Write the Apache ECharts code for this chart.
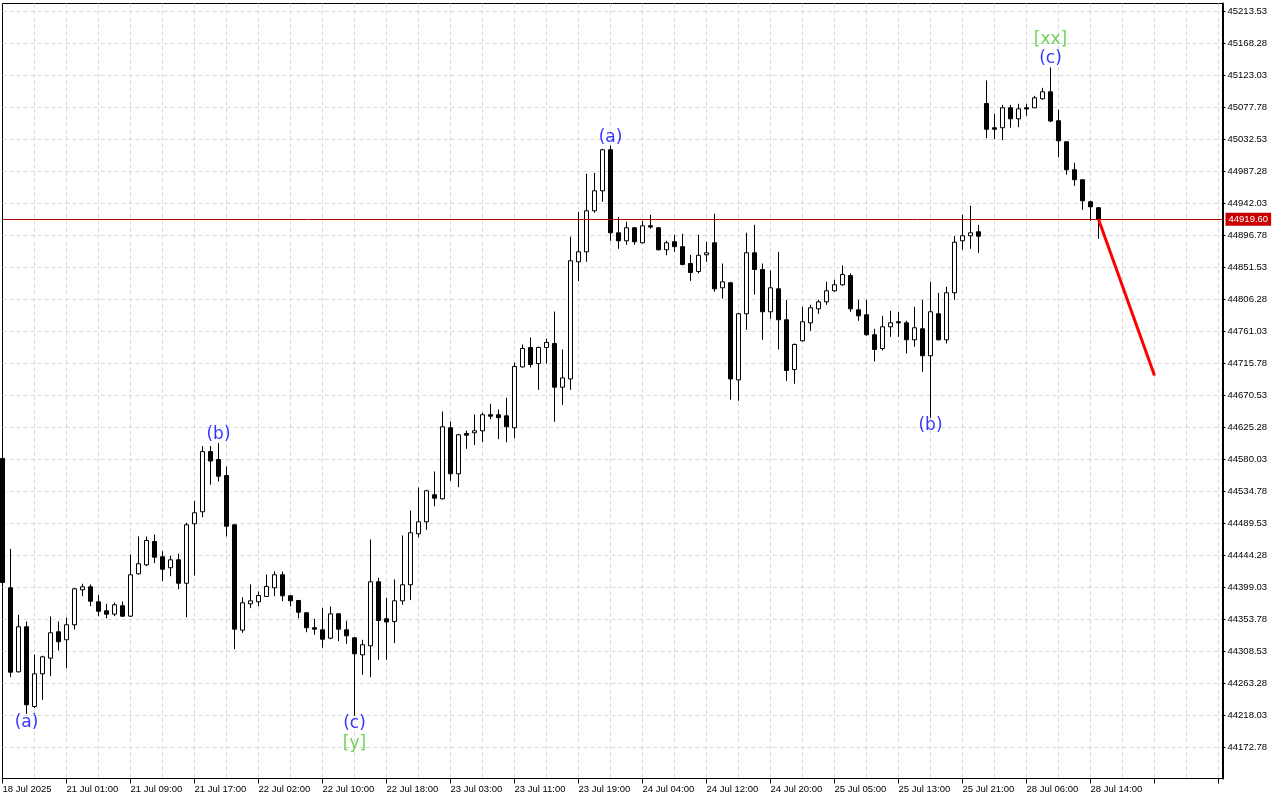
<!DOCTYPE html>
<html><head><meta charset="utf-8">
<script src="https://cdn.jsdelivr.net/npm/echarts@6/dist/echarts.min.js"></script>
<style>html,body{margin:0;padding:0;background:#fff}#chart{width:1280px;height:800px}</style>
</head><body><div id="chart"></div>
<script>
// Hourly candles, bar index 0..137
const open = [
44581.5,44398.6,44279.8,44343.5,44230.8,44277.0,44299.1,44336.4,44325.1,44346.3,
44395.8,44400.0,44378.8,44366.1,44361.3,44373.2,44358.5,44418.4,44431.1,44464.1,
44442.5,44426.9,44438.2,44405.1,44489.1,44506.1,44591.2,44580.0,44557.4,44487.7,
44338.7,44376.0,44378.8,44386.3,44398.6,44417.0,44387.3,44380.7,44363.3,44342.1,
44339.2,44327.4,44361.8,44339.2,44327.9,44303.9,44316.6,44407.1,44354.8,44351.0,
44380.2,44402.9,44475.0,44491.9,44530.2,44524.5,44624.9,44559.8,44616.8,44617.8,
44620.6,44643.3,44643.3,44641.8,44624.9,44711.0,44738.4,44715.8,44738.4,44744.1,
44682.3,44694.0,44859.6,44873.7,44931.7,44960.0,45018.0,44900.6,44889.3,44907.7,
44886.5,44910.5,44907.7,44876.6,44887.9,44881.0,44857.2,44845.9,44869.5,44886.5,
44822.8,44829.9,44692.6,44786.1,44872.3,44848.7,44788.9,44821.4,44777.6,44707.3,
44747.9,44773.3,44793.1,44803.0,44818.6,44827.1,44840.2,44791.7,44784.7,44756.4,
44737.0,44767.7,44774.8,44773.3,44749.3,44764.9,44726.7,44786.1,44749.3,44815.8,
44889.3,44896.4,44902.0,45083.4,45049.1,45049.1,45077.4,45061.8,45077.4,45077.4,
45090.1,45100.0,45059.0,45029.3,44989.7,44975.6,44944.4,44936.0];
const close = [
44406.1,44279.3,44343.5,44233.2,44277.0,44301.0,44335.0,44322.3,44346.3,44397.2,
44400.0,44379.7,44365.5,44361.3,44374.6,44358.5,44417.0,44432.6,44465.5,44441.9,
44424.9,44438.2,44405.1,44487.7,44504.7,44591.2,44577.9,44556.4,44485.7,44340.1,
44377.4,44380.2,44387.7,44400.5,44417.0,44387.3,44380.2,44364.1,44342.1,44340.1,
44325.9,44361.8,44340.1,44330.7,44305.3,44318.0,44407.1,44352.4,44350.3,44380.2,
44402.9,44476.4,44491.9,44535.8,44525.3,44626.3,44559.8,44615.0,44614.4,44620.6,
44643.3,44641.3,44639.2,44626.3,44711.5,44737.0,44714.4,44738.4,44745.5,44682.3,
44695.4,44861.0,44873.7,44931.7,44960.0,45018.0,44900.6,44889.3,44907.7,44887.9,
44910.5,44908.8,44876.6,44886.5,44881.0,44855.8,44844.5,44868.8,44872.3,44821.4,
44831.3,44694.0,44786.1,44872.3,44848.7,44788.9,44822.8,44777.6,44705.9,44742.7,
44774.8,44794.6,44803.0,44818.6,44827.1,44841.6,44793.1,44783.2,44756.4,44735.6,
44767.7,44773.3,44773.3,44749.3,44766.3,44726.7,44788.9,44749.3,44815.8,44887.3,
44896.4,44900.6,44895.8,45047.1,45047.1,45077.4,45061.8,45075.9,45075.7,45091.5,
45100.0,45058.6,45030.7,44989.7,44975.6,44945.9,44937.4,44919.6];
const low = [
44403.3,44272.2,44278.8,44220.4,44228.4,44240.2,44273.6,44310.0,44284.9,44339.6,
44386.7,44372.6,44358.5,44355.6,44358.5,44357.3,44357.3,44417.4,44429.2,44433.4,
44408.0,44415.0,44396.6,44357.0,44416.0,44498.4,44544.5,44548.9,44471.2,44311.8,
44335.0,44369.8,44372.6,44385.6,44386.7,44379.7,44372.6,44355.6,44335.8,44332.2,
44313.8,44325.9,44323.1,44319.4,44217.6,44275.6,44272.2,44296.8,44296.8,44320.3,
44374.6,44381.1,44470.0,44480.6,44514.0,44523.5,44549.8,44540.9,44595.2,44600.5,
44604.5,44637.0,44608.8,44604.5,44610.2,44710.1,44710.1,44678.5,44715.8,44633.4,
44657.4,44678.5,44832.6,44859.6,44928.9,44944.4,44889.3,44878.0,44883.6,44883.6,
44885.5,44906.3,44875.6,44868.8,44873.7,44854.4,44832.6,44843.1,44859.6,44817.2,
44807.6,44664.5,44663.1,44763.4,44813.2,44749.3,44779.0,44735.6,44691.2,44687.1,
44746.9,44762.0,44786.1,44798.8,44817.2,44825.7,44788.9,44776.2,44755.0,44718.6,
44734.2,44753.5,44753.5,44729.9,44739.4,44704.0,44639.2,44748.3,44744.1,44805.9,
44876.6,44878.0,44872.3,45034.4,45033.0,45031.5,45049.1,45049.9,45066.0,45077.1,
45088.7,45057.1,45007.5,44982.6,44967.1,44933.1,44917.6,44892.1];
const high = [
44584.3,44453.8,44360.4,44351.0,44304.3,44302.5,44358.0,44351.0,44356.6,44398.3,
44404.3,44403.3,44388.2,44376.0,44377.8,44379.2,44445.7,44471.2,44471.2,44474.0,
44450.4,44443.9,44446.7,44490.5,44521.6,44599.1,44599.1,44603.1,44570.1,44488.1,
44385.3,44403.3,44393.4,44417.4,44421.7,44421.7,44388.4,44381.4,44364.4,44354.8,
44370.3,44372.2,44363.0,44352.0,44329.0,44325.1,44466.9,44412.6,44384.5,44410.4,
44472.6,44507.9,44540.5,44537.2,44563.1,44647.9,44633.8,44616.4,44621.1,44643.7,
44646.1,44658.8,44650.7,44667.3,44717.2,44742.7,44752.6,44739.8,44751.1,44789.3,
44735.6,44895.0,44930.3,44984.0,44985.4,45019.4,45023.6,44923.1,44916.2,44908.8,
44917.6,44926.1,44908.8,44889.3,44897.8,44899.2,44869.5,44897.8,44887.9,44927.5,
44857.2,44831.3,44787.5,44900.6,44911.9,44857.2,44847.3,44873.7,44805.9,44744.1,
44796.0,44798.8,44805.9,44831.3,44834.2,44854.4,44843.1,44805.9,44805.9,44764.9,
44783.2,44790.3,44788.9,44776.2,44796.0,44805.9,44831.3,44815.8,44824.3,44896.4,
44926.1,44938.8,44911.9,45116.0,45068.9,45081.6,45081.6,45083.0,45083.0,45094.3,
45105.6,45134.4,45074.5,45030.4,44999.6,44975.7,44945.9,44937.1];

const xTickIdx = [0,8,16,24,32,40,48,56,64,72,80,88,96,104,112,120,128,136];
const xTickLabels = ['18 Jul 2025','21 Jul 01:00','21 Jul 09:00','21 Jul 17:00','22 Jul 02:00',
  '22 Jul 10:00','22 Jul 18:00','23 Jul 03:00','23 Jul 11:00','23 Jul 19:00','24 Jul 04:00',
  '24 Jul 12:00','24 Jul 20:00','25 Jul 05:00','25 Jul 13:00','25 Jul 21:00','28 Jul 06:00','28 Jul 14:00'];
const xTickMarks = [0,8,16,24,32,40,48,56,64,72,80,88,96,104,112,120,128,136,144,152];
const xGridIdx = [4,8,12,16,20,24,28,32,36,40,44,48,52,56,60,64,68,72,76,80,84,88,92,96,100,
  104,108,112,116,120,124,128,132,136,140,144,148,152];
const yTicks = [44172.78,44218.03,44263.28,44308.53,44353.78,44399.03,44444.28,44489.53,
  44534.78,44580.03,44625.28,44670.53,44715.78,44761.03,44806.28,44851.53,44896.78,44942.03,
  44987.28,45032.53,45077.78,45123.03,45168.28,45213.53];
const lastPrice = 44919.60;
const forecastIdx = [137, 144];
const forecastPrice = [44919.60, 44698.8];
const waveText = ['(a)','(b)','(c)','[y]','(a)','(b)','[xx]','(c)'];
const waveIdx = [3, 27, 44, 44, 76, 116, 131, 131];
const wavePrice = [44208.1, 44615.4, 44206.7, 44178.4, 45035.4, 44628.1, 45173.9, 45147.1];
const waveKind = ['minor','minor','minor','major','minor','minor','major','minor'];

const FONT = 'Liberation Sans';
const labelMap = {};
xTickIdx.forEach((k, i) => { labelMap[k] = xTickLabels[i]; });
const candleData = open.map((o, i) => [i, o, close[i], low[i], high[i]]);
const forecastData = forecastIdx.map((k, i) => [k, forecastPrice[i]]);
const waveData = waveText.map((t, i) => ({
  name: t, value: [waveIdx[i], wavePrice[i]],
  label: { color: waveKind[i] === 'major' ? '#4cc62e' : '#0000ff' }
}));

const chart = echarts.init(document.getElementById('chart'), null, { renderer: 'canvas' });
const dash = { color: '#d8d8d8', width: 1, type: [4, 3] };
chart.setOption({
  animation: false,
  backgroundColor: '#ffffff',
  grid: { left: 2.5, right: 57.5, top: 3.5, bottom: 21.5, show: true, borderColor: '#000', borderWidth: 1,
          backgroundColor: '#fff', containLabel: false, outerBoundsMode: 'none' },
  xAxis: [
    { type: 'value', position: 'bottom', min: 0, max: 152.5,
      axisLine: { show: true, onZero: false, lineStyle: { color: '#000', width: 1 } },
      axisTick: { show: true, length: 5, inside: false, customValues: xTickMarks, lineStyle: { color: '#000' } },
      axisLabel: { show: true, align: 'left', margin: 6, color: '#000', fontFamily: FONT, fontSize: 9.5,
                   customValues: xTickIdx,
                   formatter: v => (labelMap[v] !== undefined ? labelMap[v] : '') },
      splitLine: { show: false } },
    { type: 'value', position: 'top', min: 0, max: 152.5,
      axisLine: { show: false }, axisTick: { show: false, customValues: xGridIdx }, axisLabel: { show: false },
      splitLine: { show: true, lineStyle: dash } }
  ],
  yAxis: {
    type: 'value', position: 'right', min: 44128.95, max: 45224.84, scale: true,
    axisLine: { show: true, onZero: false, lineStyle: { color: '#000', width: 2 } },
    axisTick: { show: true, length: 3, customValues: yTicks, lineStyle: { color: '#000' } },
    axisLabel: { show: true, margin: 5, color: '#000', fontFamily: FONT, fontSize: 9.5,
                 padding: [3, 0, 0, 0],
                 customValues: yTicks, formatter: v => v.toFixed(2) },
    splitLine: { show: true, lineStyle: dash }
  },
  series: [
    { type: 'candlestick', xAxisIndex: 0, yAxisIndex: 0, data: candleData,
      encode: { x: 0, y: [1, 2, 3, 4] }, barWidth: 4, clip: true,
      itemStyle: { color: '#ffffff', color0: '#000000', borderColor: '#000000', borderColor0: '#000000', borderWidth: 1 },
      markLine: { silent: true, symbol: 'none', animation: false,
        lineStyle: { color: '#b40000', width: 1, type: 'solid' },
        label: { show: true, position: 'end', distance: 3, color: '#fff', backgroundColor: '#c80000',
                 padding: [2, 3, 1, 3], fontFamily: FONT, fontSize: 9.5, formatter: p => p.value.toFixed(2) },
        data: [{ yAxis: lastPrice }] } },
    { type: 'line', xAxisIndex: 0, yAxisIndex: 0, data: forecastData, symbol: 'none',
      lineStyle: { color: '#ff0000', width: 3 }, z: 5 },
    { type: 'scatter', xAxisIndex: 0, yAxisIndex: 0, data: waveData, symbolSize: 1,
      itemStyle: { color: 'rgba(0,0,0,0)' },
      label: { show: true, position: 'inside', formatter: p => p.name, fontFamily: 'DejaVu Sans', fontSize: 17 }, z: 6 }
  ]
});
</script></body></html>
